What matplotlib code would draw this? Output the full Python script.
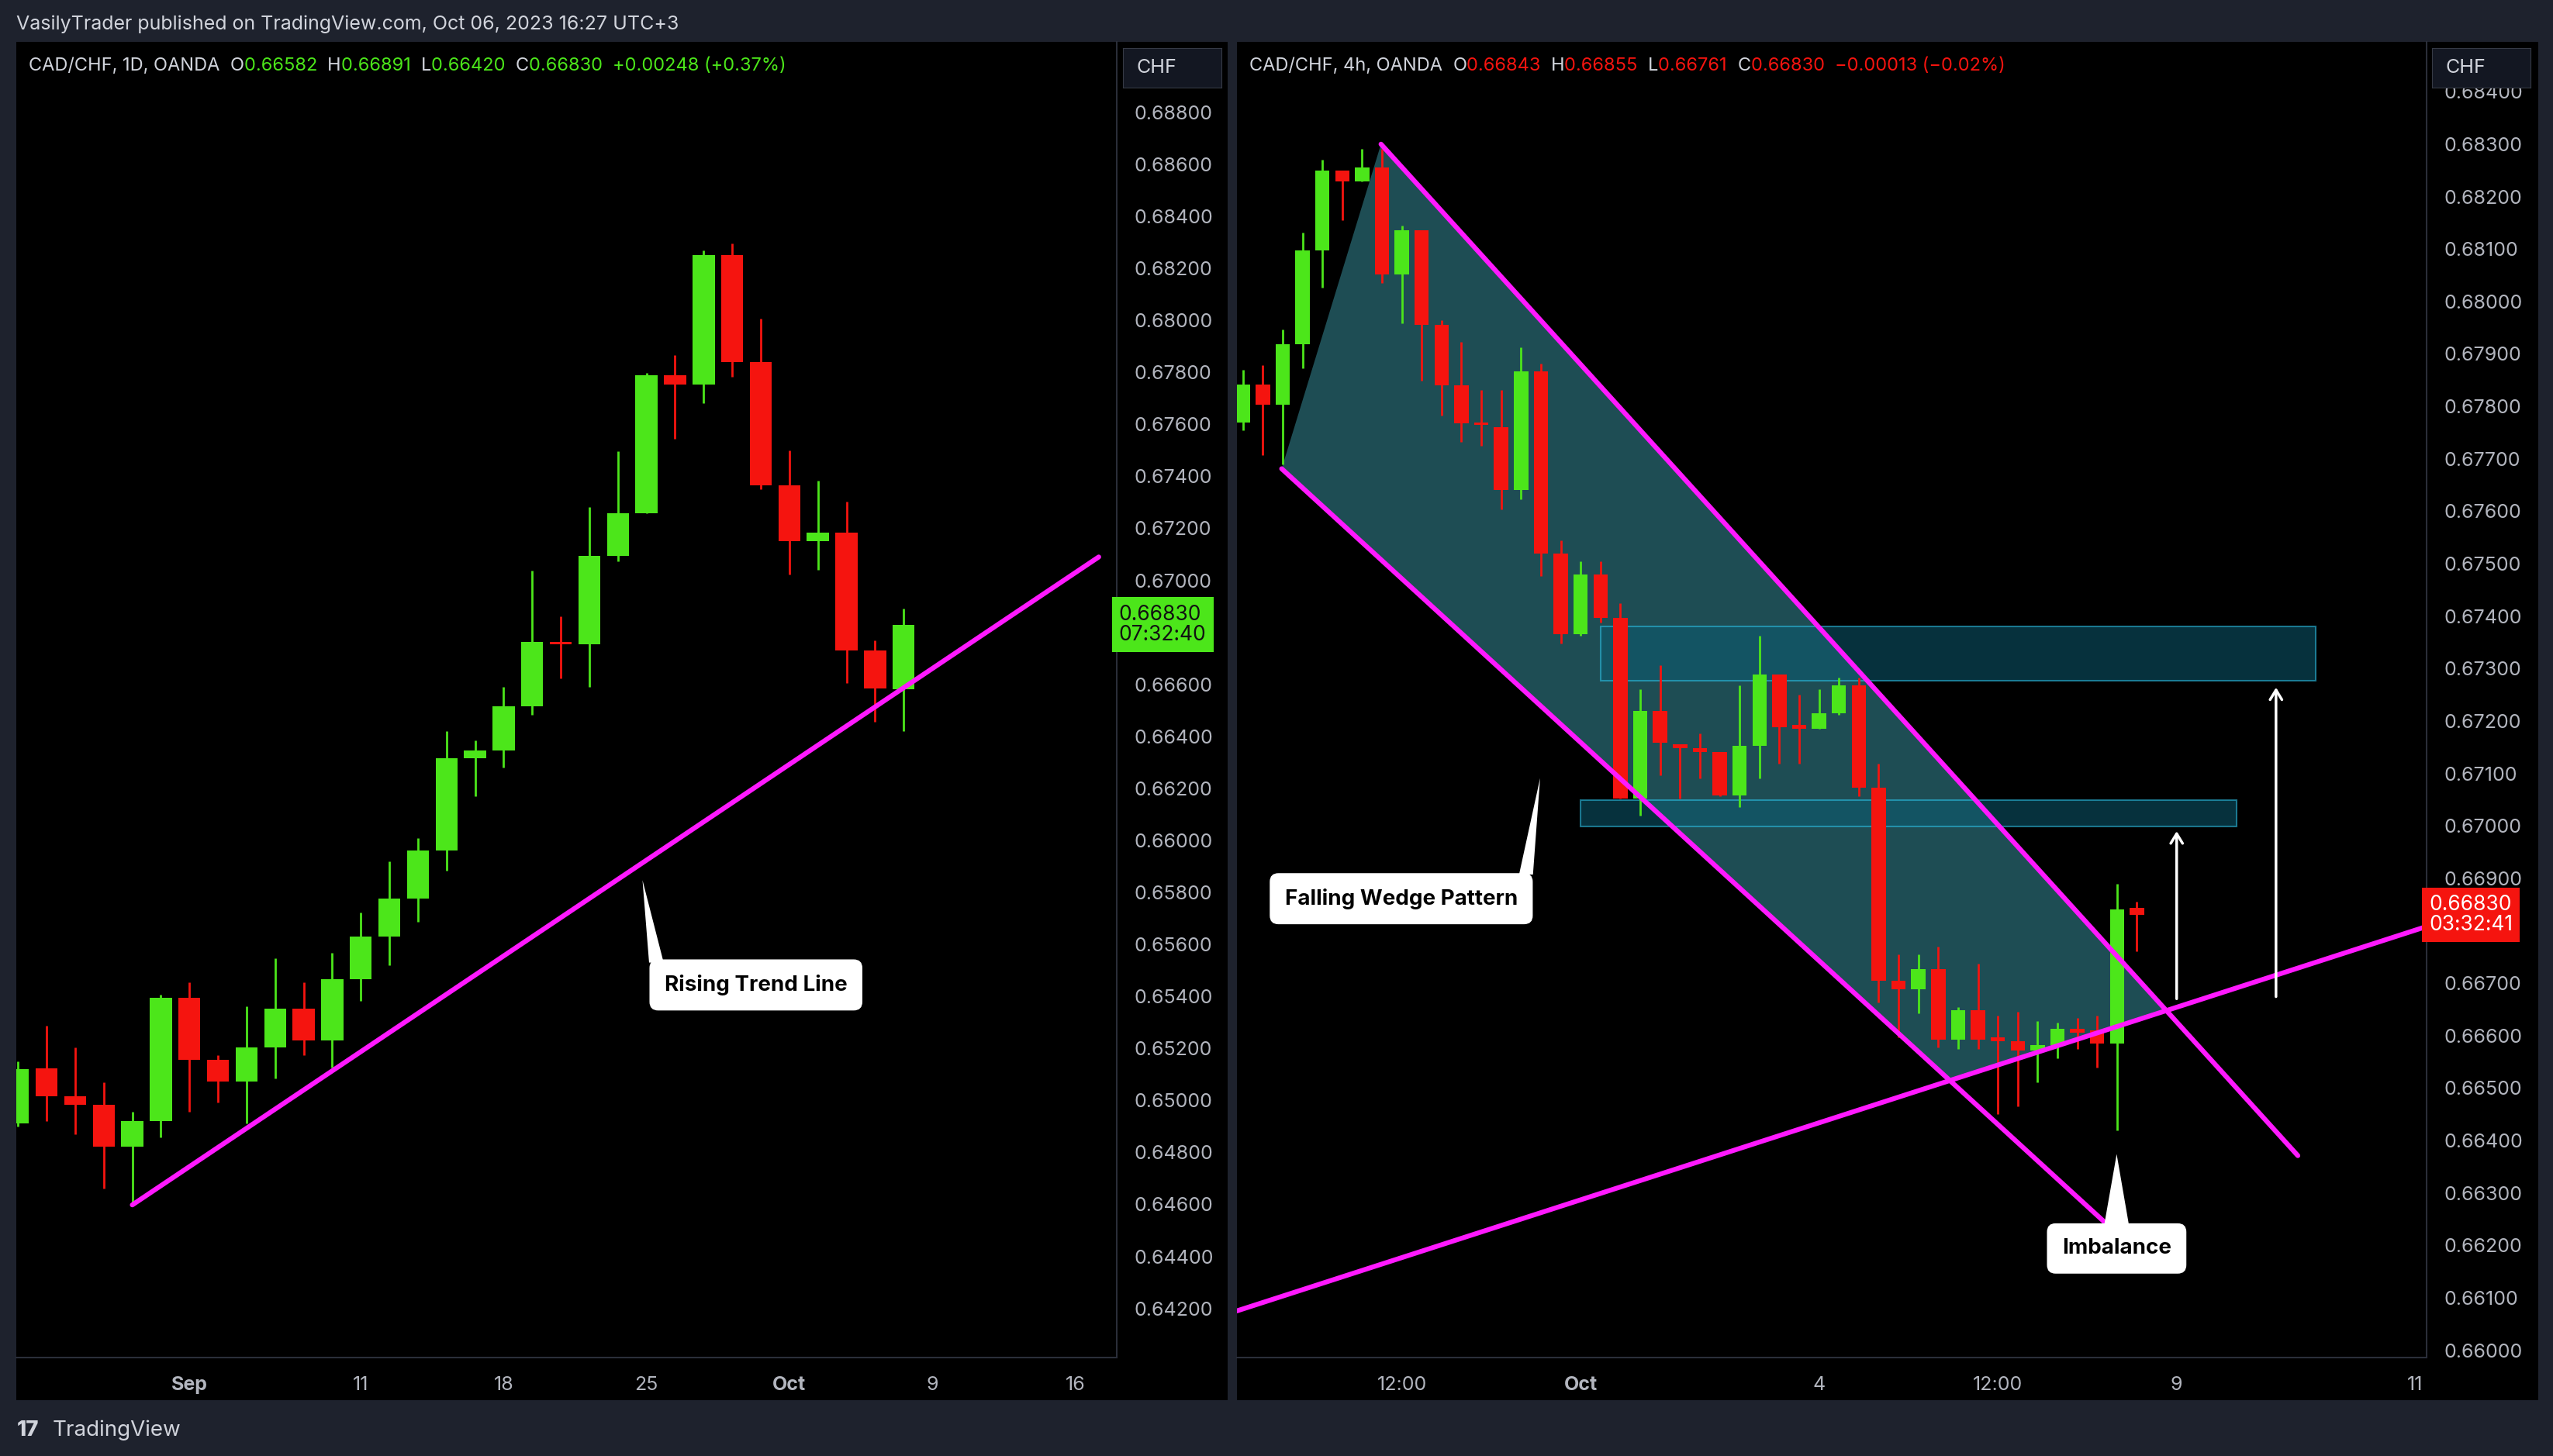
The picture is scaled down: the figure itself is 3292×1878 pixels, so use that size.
import numpy as np
import matplotlib.pyplot as plt
from matplotlib.patches import Polygon, Rectangle
from matplotlib.transforms import blended_transform_factory

# ── DATA ──────────────────────────────────────────────────────────────────────
# daily CAD/CHF, Aug 24 .. Oct 6 2023
d_open = [0.64912, 0.65123, 0.65016, 0.64984, 0.64823, 0.64919, 0.65394, 0.65155,
          0.65073, 0.65205, 0.65352, 0.65230, 0.65466, 0.65630, 0.65776, 0.65962,
          0.66315, 0.66347, 0.66515, 0.66762, 0.66755, 0.67094, 0.67258, 0.67790,
          0.67754, 0.68250, 0.67840, 0.67365, 0.67150, 0.67183, 0.66729, 0.66582]
d_high = [0.65150, 0.65287, 0.65205, 0.65069, 0.64955, 0.65405, 0.65455, 0.65173,
          0.65362, 0.65548, 0.65455, 0.65566, 0.65723, 0.65919, 0.66008, 0.66419,
          0.66383, 0.66590, 0.67036, 0.66862, 0.67283, 0.67497, 0.67797, 0.67865,
          0.68268, 0.68297, 0.68007, 0.67500, 0.67383, 0.67304, 0.66769, 0.66891]
d_low = [0.64900, 0.64919, 0.64869, 0.64662, 0.64598, 0.64859, 0.64955, 0.64991,
         0.64912, 0.65084, 0.65173, 0.65127, 0.65384, 0.65519, 0.65687, 0.65883,
         0.66169, 0.66280, 0.66483, 0.66622, 0.66590, 0.67072, 0.67258, 0.67543,
         0.67683, 0.67783, 0.67350, 0.67022, 0.67040, 0.66604, 0.66455, 0.66420]
d_close = [0.65119, 0.65016, 0.64984, 0.64823, 0.64919, 0.65394, 0.65155, 0.65073,
           0.65205, 0.65352, 0.65230, 0.65466, 0.65630, 0.65776, 0.65962, 0.66315,
           0.66347, 0.66515, 0.66762, 0.66755, 0.67094, 0.67258, 0.67790, 0.67754,
           0.68250, 0.67840, 0.67365, 0.67150, 0.67183, 0.66729, 0.66583, 0.66830]
d_ticks = [7, 13, 18, 23, 28, 33, 38]
d_tick_labels = ["Sep", "11", "18", "25", "Oct", "9", "16"]
d_trend = ([5, 38.83], [0.64598, 0.67090])

# 4h CAD/CHF
h_open = [0.67769, 0.67842, 0.67803, 0.67918, 0.68098, 0.68250, 0.68229, 0.68256,
          0.68052, 0.68135, 0.67955, 0.67840, 0.67769, 0.67760, 0.67640, 0.67866,
          0.67519, 0.67365, 0.67479, 0.67397, 0.67052, 0.67219, 0.67155, 0.67148,
          0.67141, 0.67058, 0.67153, 0.67289, 0.67192, 0.67185, 0.67215, 0.67268,
          0.67073, 0.66705, 0.66688, 0.66727, 0.66592, 0.66649, 0.66596, 0.66589,
          0.66571, 0.66582, 0.66613, 0.66610, 0.66585, 0.66843]
h_high = [0.67870, 0.67879, 0.67946, 0.68132, 0.68270, 0.68250, 0.68291, 0.68291,
          0.68144, 0.68135, 0.67964, 0.67923, 0.67831, 0.67831, 0.67912, 0.67881,
          0.67544, 0.67504, 0.67504, 0.67424, 0.67261, 0.67307, 0.67155, 0.67176,
          0.67141, 0.67268, 0.67362, 0.67289, 0.67250, 0.67261, 0.67282, 0.67282,
          0.67119, 0.66755, 0.66755, 0.66769, 0.66654, 0.66737, 0.66638, 0.66645,
          0.66627, 0.66625, 0.66634, 0.66638, 0.66889, 0.66855]
h_low = [0.67755, 0.67707, 0.67689, 0.67872, 0.68026, 0.68155, 0.68229, 0.68035,
         0.67958, 0.67849, 0.67783, 0.67732, 0.67725, 0.67604, 0.67622, 0.67477,
         0.67348, 0.67362, 0.67388, 0.67052, 0.67020, 0.67096, 0.67052, 0.67091,
         0.67056, 0.67035, 0.67091, 0.67119, 0.67119, 0.67185, 0.67211, 0.67056,
         0.66663, 0.66596, 0.66642, 0.66578, 0.66575, 0.66575, 0.66450, 0.66465,
         0.66511, 0.66557, 0.66575, 0.66539, 0.66419, 0.66761]
h_close = [0.67842, 0.67803, 0.67918, 0.68098, 0.68250, 0.68229, 0.68256, 0.68052,
           0.68135, 0.67955, 0.67840, 0.67767, 0.67764, 0.67640, 0.67866, 0.67519,
           0.67365, 0.67479, 0.67397, 0.67052, 0.67219, 0.67158, 0.67148, 0.67141,
           0.67058, 0.67153, 0.67289, 0.67188, 0.67185, 0.67215, 0.67268, 0.67073,
           0.66705, 0.66688, 0.66727, 0.66592, 0.66649, 0.66592, 0.66589, 0.66571,
           0.66582, 0.66613, 0.66606, 0.66585, 0.66840, 0.66830]
h_ticks = [8, 17, 29, 38, 47, 59]
h_tick_labels = ["12:00", "Oct", "4", "12:00", "9", "11"]
wedge_upper = ([6.95, 53.1], [0.68300, 0.66371])
wedge_lower = ([1.95, 43.35], [0.67681, 0.66245])
rising_4h = ([-0.3, 59.58], [0.66075, 0.66808])
zone_top = (18.0, 54.0, 0.67277, 0.67380)
zone_low = (17.0, 50.0, 0.66999, 0.67049)
arrows_4h = [(47.0, 0.66666, 0.66994), (52.0, 0.66670, 0.67268)]

# ── STYLE ─────────────────────────────────────────────────────────────────────
W, H = 3292, 1878
FRAME = "#1e222d"
GREEN = "#4ce61a"
RED = "#f5140f"
MAG = "#ff19ff"
TXT = "#d1d4dc"
AX_TXT = "#b2b5be"
SEP = "#2a2e39"
plt.rcParams["font.family"] = ["Inter", "DejaVu Sans"]

fig = plt.figure(figsize=(W / 100, H / 100), dpi=100, facecolor=FRAME)


def fbox(x0, y0, x1, y1):
    """pixel box (top-left origin) -> figure fraction [l, b, w, h]"""
    return [x0 / W, 1 - y1 / H, (x1 - x0) / W, (y1 - y0) / H]


def panel(px0, px_plot, px1, ylim, xlim):
    bg = fig.add_axes(fbox(px0, 54, px1, 1806))
    bg.set_facecolor("black")
    bg.set_xticks([]); bg.set_yticks([])
    for s in bg.spines.values():
        s.set_visible(False)
    ax = fig.add_axes(fbox(px0, 54, px_plot, 1751))
    ax.set_facecolor("black")
    ax.set_xlim(*xlim); ax.set_ylim(*ylim)
    for k in ["top", "left"]:
        ax.spines[k].set_visible(False)
    ax.spines["right"].set_color(SEP); ax.spines["right"].set_linewidth(1.5)
    ax.spines["bottom"].set_color(SEP); ax.spines["bottom"].set_linewidth(1.5)
    ax.yaxis.tick_right()
    ax.tick_params(axis="y", length=0, pad=16, labelsize=18, labelcolor=AX_TXT)
    ax.tick_params(axis="x", length=0, pad=17, labelsize=18, labelcolor=AX_TXT)
    return ax


def candles(ax, o, h, l, c, width, start):
    x = np.arange(start, start + len(o))
    for xi, oo, hh, ll, cc in zip(x, o, h, l, c):
        col = GREEN if cc >= oo else RED
        ax.vlines(xi, ll, hh, color=col, lw=2, zorder=3)
        ht = max(abs(cc - oo), 0.00004)
        ax.bar(xi, ht, bottom=min(oo, cc), width=width, color=col, zorder=3)


def label(ax, x, y, text, tip, base):
    ax.add_patch(Polygon([tip, base[0], base[1]], closed=True, fc="white",
                         ec="none", zorder=6))
    ax.text(x, y, text, ha="center", va="center", fontsize=20, weight="bold",
            color="black", zorder=7,
            bbox=dict(boxstyle="round,pad=0.7,rounding_size=0.4", fc="white", ec="none"))


def price_box(ax, price, text, fc, tc):
    tr = blended_transform_factory(ax.transAxes, ax.transData)
    ax.text(1.002, price, text, transform=tr, ha="left", va="center", fontsize=19,
            color=tc, linespacing=1.0, clip_on=False, zorder=8,
            bbox=dict(boxstyle="square,pad=0.35", fc=fc, ec="none"))


def price_ticks(ax, lo, hi, step, hide):
    vals = np.round(np.arange(lo, hi + step / 2, step), 5)
    vals = [v for v in vals if abs(v - hide) > 1e-6]
    ax.set_yticks(vals)
    ax.set_yticklabels([f"{v:.5f}" for v in vals])


# ── LEFT: DAILY ───────────────────────────────────────────────────────────────
axL = panel(21, 1440, 1583, (0.64011, 0.69071), (0.94, 39.46))
candles(axL, d_open, d_high, d_low, d_close, 0.77, 1)
axL.plot(*d_trend, color=MAG, lw=4.5, solid_capstyle="round", zorder=4)
price_ticks(axL, 0.642, 0.688, 0.002, 0.668)
axL.set_xticks(d_ticks)
axL.set_xticklabels(d_tick_labels)
for t, s in zip(axL.get_xticklabels(), d_tick_labels):
    if s in ("Sep", "Oct"):
        t.set_fontweight("bold")
label(axL, 26.83, 0.65444, "Rising Trend Line",
      (22.86, 0.65847), [(23.09, 0.6553), (23.6, 0.6553)])
price_box(axL, 0.6683, "0.66830\n07:32:40", GREEN, "#111111")

# ── RIGHT: 4H ─────────────────────────────────────────────────────────────────
axR = panel(1595, 3129, 3273, (0.65986, 0.68495), (-0.3, 59.58))


def inter(a, b):
    ma = (a[1][1] - a[1][0]) / (a[0][1] - a[0][0])
    mb = (b[1][1] - b[1][0]) / (b[0][1] - b[0][0])
    x = (b[1][0] - mb * b[0][0] - a[1][0] + ma * a[0][0]) / (ma - mb)
    return x, a[1][0] + ma * (x - a[0][0])


# wedge fill: apex, down lower line, along rising line, back up upper line
p_lr = inter(wedge_lower, rising_4h)
p_ur = inter(wedge_upper, rising_4h)
axR.add_patch(Polygon([(wedge_upper[0][0], wedge_upper[1][0]),
                       (wedge_lower[0][0], wedge_lower[1][0]), p_lr, p_ur],
                      closed=True, fc="#2b6f78", alpha=0.7, ec="none", zorder=1))
for x0, x1, y0, y1 in (zone_top, zone_low):
    axR.add_patch(Rectangle((x0, y0), x1 - x0, y1 - y0, fc="#0b5a70", alpha=0.55,
                            ec="#2ec4ea", lw=1.5, zorder=2))
candles(axR, h_open, h_high, h_low, h_close, 0.72, 0)
for ln in (wedge_upper, wedge_lower, rising_4h):
    axR.plot(*ln, color=MAG, lw=4.5, solid_capstyle="round", zorder=4)
for x, y0, y1 in arrows_4h:
    axR.annotate("", xy=(x, y1), xytext=(x, y0), zorder=5,
                 arrowprops=dict(arrowstyle="->,head_length=0.9,head_width=0.55",
                                 color="white", lw=2.5))
price_ticks(axR, 0.660, 0.684, 0.001, 0.668)
axR.set_xticks(h_ticks)
axR.set_xticklabels(h_tick_labels)
for t, s in zip(axR.get_xticklabels(), h_tick_labels):
    if s == "Oct":
        t.set_fontweight("bold")
label(axR, 7.97, 0.66861, "Falling Wedge Pattern",
      (14.96, 0.67091), [(13.9, 0.66907), (14.6, 0.66907)])
label(axR, 43.98, 0.66194, "Imbalance",
      (43.98, 0.66374), [(43.35, 0.66238), (44.6, 0.66238)])
price_box(axR, 0.6683, "0.66830\n03:32:41", RED, "white")

# ── HEADERS ───────────────────────────────────────────────────────────────────
renderer = fig.canvas.get_renderer()


def pieces(px, py, parts, size=17):
    x = px
    for s, col in parts:
        t = fig.text(x / W, 1 - py / H, s, color=col, fontsize=size, va="center")
        x += t.get_window_extent(renderer).width


pieces(37, 85, [("CAD/CHF, 1D, OANDA  ", TXT), ("O", TXT), ("0.66582  ", GREEN),
                ("H", TXT), ("0.66891  ", GREEN), ("L", TXT), ("0.66420  ", GREEN),
                ("C", TXT), ("0.66830  ", GREEN), ("+0.00248 (+0.37%)", GREEN)])
pieces(1611, 85, [("CAD/CHF, 4h, OANDA  ", TXT), ("O", TXT), ("0.66843  ", RED),
                  ("H", TXT), ("0.66855  ", RED), ("L", TXT), ("0.66761  ", RED),
                  ("C", TXT), ("0.66830  ", RED), ("\u22120.00013 (\u22120.02%)", RED)])

for x0, x1 in ((1448, 1575), (3136, 3263)):
    b = fig.add_axes(fbox(x0, 62, x1, 113))
    b.set_facecolor("#131722"); b.set_xticks([]); b.set_yticks([])
    for s in b.spines.values():
        s.set_color("#363a45")
    b.text(0.14, 0.5, "CHF", color=TXT, fontsize=18, va="center", transform=b.transAxes)

fig.text(21 / W, 1 - 31 / H, "VasilyTrader published on TradingView.com, Oct 06, 2023 16:27 UTC+3",
         color=TXT, fontsize=18, va="center")
fig.text(22 / W, 1 - 1845 / H, "17", color=TXT, fontsize=20, weight="heavy", va="center")
fig.text(68 / W, 1 - 1845 / H, "TradingView", color=TXT, fontsize=20, va="center")

fig.savefig("out.png", dpi=100, facecolor=FRAME)
